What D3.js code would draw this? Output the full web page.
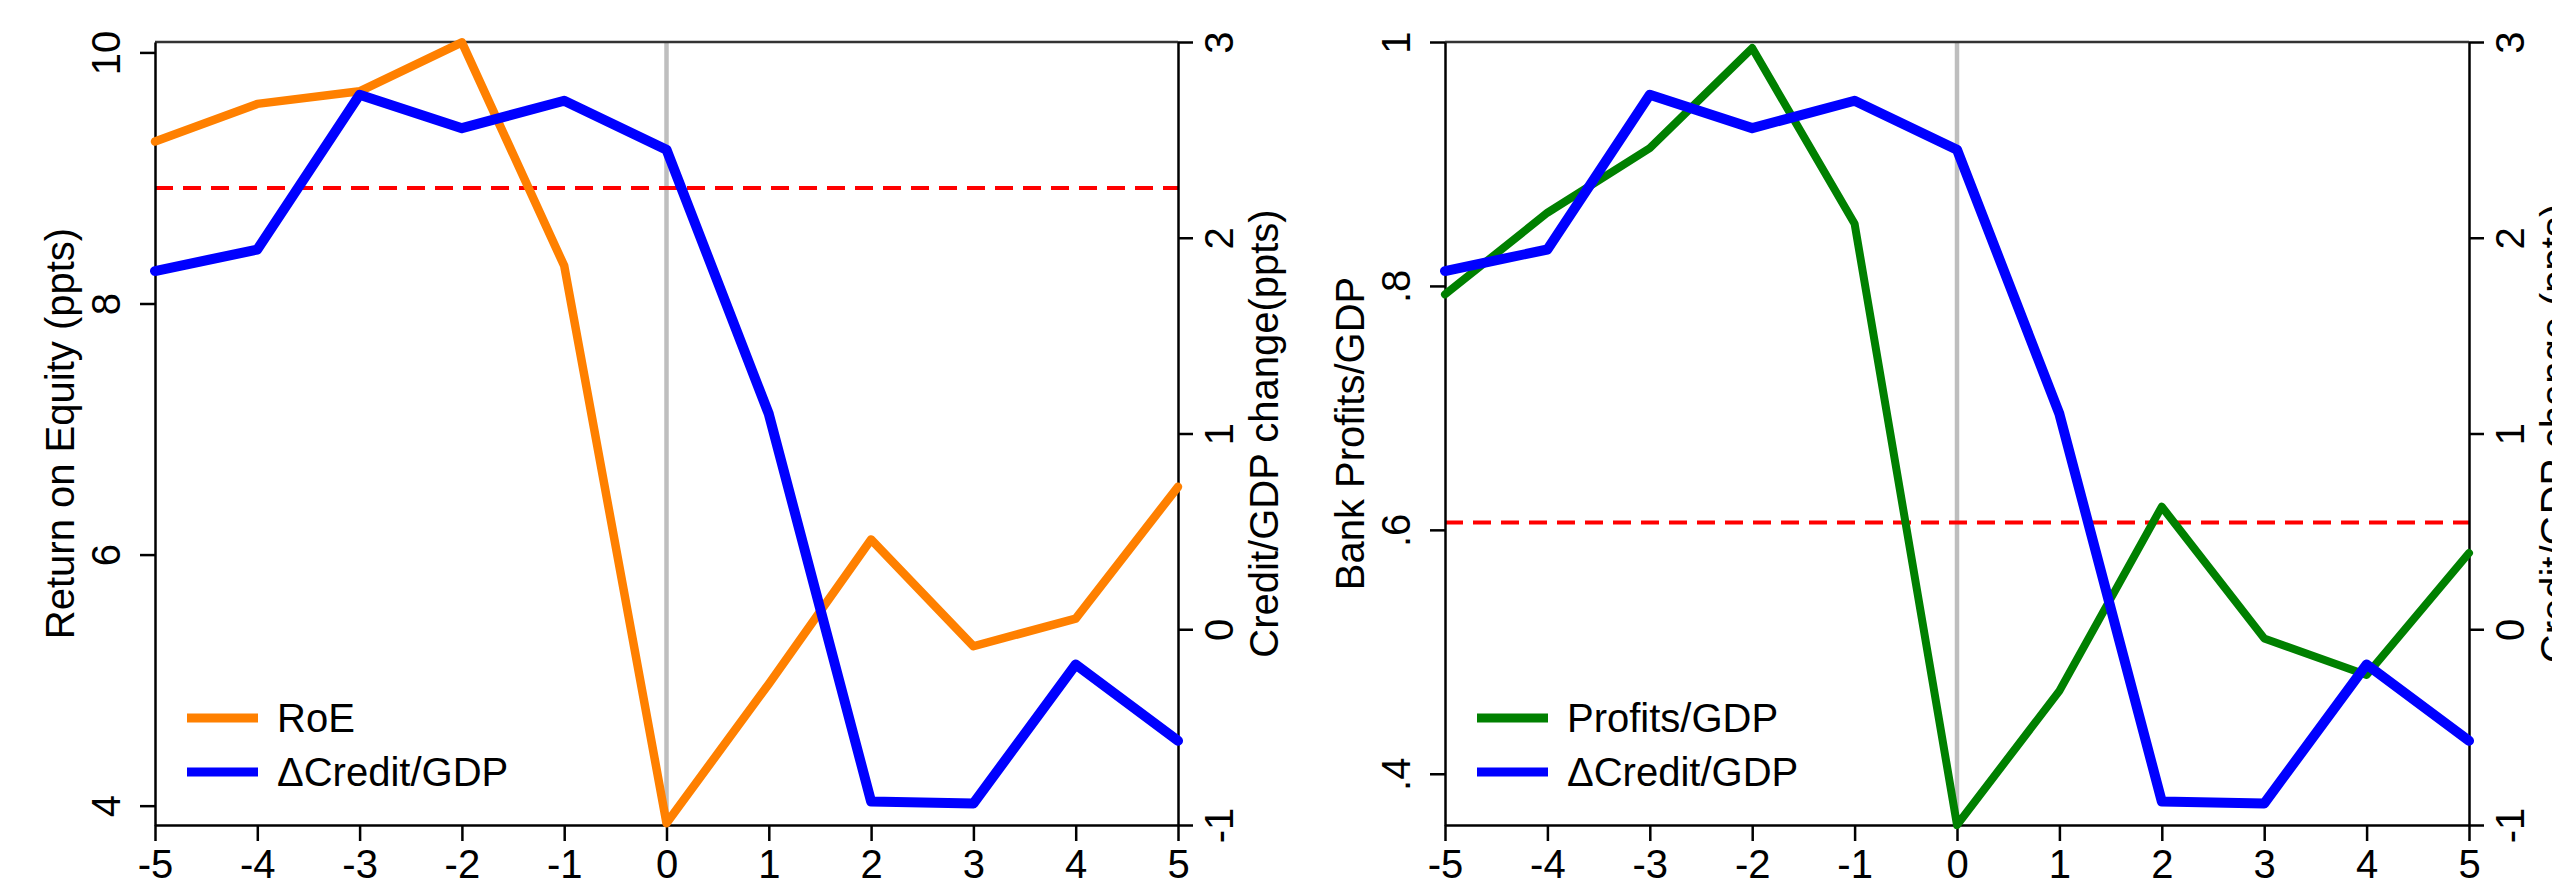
<!DOCTYPE html>
<html lang="en">
<head>
	<meta charset="UTF-8">
	<title>RoE, bank profits and credit</title>
	<style>
		body { margin: 0; background: #fff; }
		text { font-family: "Liberation Sans", Arial, Helvetica, sans-serif; fill: #000; }
	</style>
</head>
<body>
	<script src="https://d3js.org/d3.v7.min.js"></script>
	<script type="text/javascript">
		// data (event time -5..5)
		var years = [-5, -4, -3, -2, -1, 0, 1, 2, 3, 4, 5];
		var roe = [9.29, 9.59, 9.69, 10.08, 8.30, 3.86, 4.97, 6.12, 5.27, 5.49, 6.54];
		var profitsGdp = [0.793, 0.860, 0.913, 0.995, 0.851, 0.358, 0.468, 0.619, 0.511, 0.481, 0.581];
		var creditChange = [1.83, 1.94, 2.73, 2.56, 2.70, 2.45, 1.10, -0.88, -0.89, -0.18, -0.57];

		var roeMean = 8.92;
		var profitsMean = 0.606;

		var roeTicks = [4, 6, 8, 10];
		var profitTicks = [0.4, 0.6, 0.8, 1];
		var creditTicks = [-1, 0, 1, 2, 3];

		var W = 2552, H = 890;
		var svg = d3.select("body").append("svg").attr("width", W).attr("height", H);

		var top_ = 42, bottom_ = 825;
		var fs = 40;

		// short labels like Stata: .4 instead of 0.4, plain hyphen for minus
		function fmt(v) {
			var s = String(+v.toFixed(2));
			return s.replace(/^0\./, ".").replace(/^-0\./, "-.");
		}

		function drawPanel(p) {
			var g = svg.append("g");
			var x = d3.scaleLinear().domain([-5, 5]).range([p.left, p.right]);
			var y = d3.scaleLinear().domain(p.yDomain).range([bottom_, top_]);
			var y2 = d3.scaleLinear().domain([-1, 3]).range([bottom_, top_]);

			// reference lines
			g.append("line")
				.attr("x1", x(0)).attr("x2", x(0))
				.attr("y1", top_).attr("y2", bottom_)
				.attr("stroke", "#bebebe").attr("stroke-width", 4.5);
			g.append("line")
				.attr("x1", p.left).attr("x2", p.right)
				.attr("y1", y(p.mean)).attr("y2", y(p.mean))
				.attr("stroke", "#ff0000").attr("stroke-width", 4)
				.attr("stroke-dasharray", "18,10");

			// top frame line
			g.append("line")
				.attr("x1", p.left).attr("x2", p.right)
				.attr("y1", top_).attr("y2", top_)
				.attr("stroke", "#333").attr("stroke-width", 2.5);

			// axes
			var ax = g.append("g").attr("transform", "translate(0," + bottom_ + ")")
				.call(d3.axisBottom(x).tickValues(years).tickFormat(fmt).tickSize(16).tickSizeOuter(0));
			ax.selectAll("text").attr("y", 53).attr("dy", 0).style("font-size", fs + "px");

			var ayl = g.append("g").attr("transform", "translate(" + p.left + ",0)")
				.call(d3.axisLeft(y).tickValues(p.ticks).tickFormat(fmt).tickSize(15).tickSizeOuter(0));
			ayl.selectAll("text")
				.attr("x", 0).attr("dy", 0).attr("text-anchor", "middle")
				.attr("transform", "translate(-35,0) rotate(-90)")
				.style("font-size", fs + "px");

			var ayr = g.append("g").attr("transform", "translate(" + p.right + ",0)")
				.call(d3.axisRight(y2).tickValues(creditTicks).tickFormat(fmt).tickSize(15).tickSizeOuter(0));
			ayr.selectAll("text")
				.attr("x", 0).attr("dy", 0).attr("text-anchor", "middle")
				.attr("transform", "translate(55,0) rotate(-90)")
				.style("font-size", fs + "px");

			g.selectAll(".domain").attr("stroke", "#000").attr("stroke-width", 2.5);
			g.selectAll(".tick line").attr("stroke", "#000").attr("stroke-width", 2.5);

			// axis titles
			g.append("text")
				.attr("transform", "translate(" + (p.left - 81) + "," + ((top_ + bottom_) / 2) + ") rotate(-90)")
				.attr("text-anchor", "middle")
				.style("font-size", fs + "px")
				.text(p.yTitle);
			g.append("text")
				.attr("transform", "translate(" + (p.right + 100) + "," + ((top_ + bottom_) / 2) + ") rotate(-90)")
				.attr("text-anchor", "middle")
				.style("font-size", fs + "px")
				.text(p.y2Title);

			// lines
			var line1 = d3.line().x(function(d, i) { return x(years[i]); }).y(function(d) { return y(d); });
			var line2 = d3.line().x(function(d, i) { return x(years[i]); }).y(function(d) { return y2(d); });

			g.append("path").attr("d", line1(p.values))
				.attr("fill", "none").attr("stroke", p.color).attr("stroke-width", p.width)
				.attr("stroke-linejoin", "round").attr("stroke-linecap", "round");
			g.append("path").attr("d", line2(creditChange))
				.attr("fill", "none").attr("stroke", "#0000ff").attr("stroke-width", 10)
				.attr("stroke-linejoin", "round").attr("stroke-linecap", "round");

			// legend
			var items = [
				{ name: p.name, color: p.color, y: 718 },
				{ name: "\u0394Credit/GDP", color: "#0000ff", y: 772 }
			];
			var lg = g.selectAll(".legend").data(items).enter().append("g").attr("class", "legend");
			lg.append("line")
				.attr("x1", p.left + 32).attr("x2", p.left + 103)
				.attr("y1", function(d) { return d.y; }).attr("y2", function(d) { return d.y; })
				.attr("stroke", function(d) { return d.color; }).attr("stroke-width", 9);
			lg.append("text")
				.attr("x", p.left + 122).attr("y", function(d) { return d.y; })
				.attr("dy", "0.36em")
				.style("font-size", fs + "px")
				.text(function(d) { return d.name; });
		}

		drawPanel({
			left: 155, right: 1178,
			yDomain: [3.846, 10.083], ticks: roeTicks,
			values: roe, mean: roeMean, color: "#ff8000", width: 8.5, name: "RoE",
			yTitle: "Return on Equity (ppts)", y2Title: "Credit/GDP change(ppts)"
		});
		drawPanel({
			left: 1445, right: 2469,
			yDomain: [0.358, 1.0], ticks: profitTicks,
			values: profitsGdp, mean: profitsMean, color: "#008000", width: 8, name: "Profits/GDP",
			yTitle: "Bank Profits/GDP", y2Title: "Credit/GDP change (ppts)"
		});
	</script>
</body>
</html>
